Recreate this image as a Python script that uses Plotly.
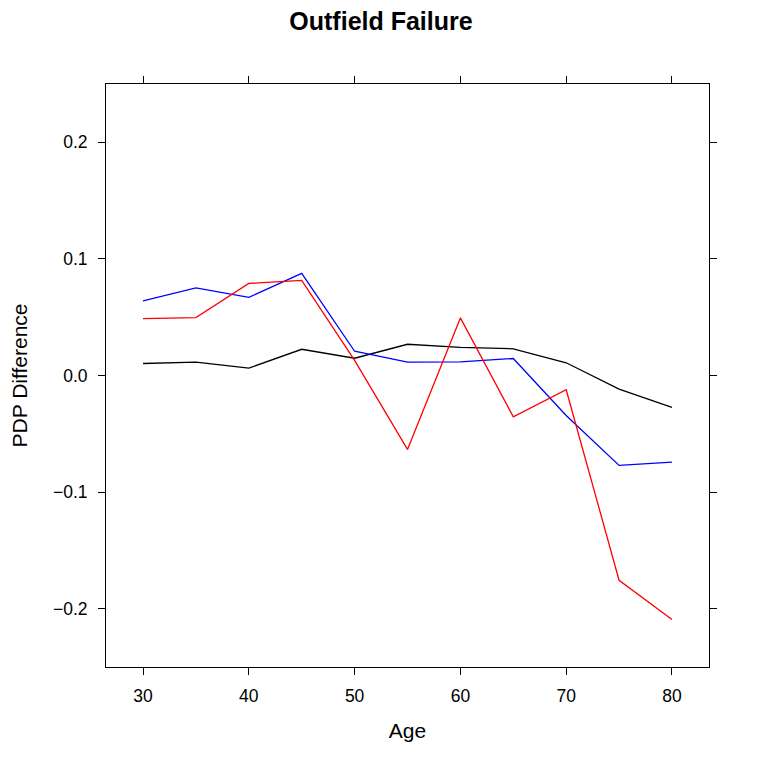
import plotly.graph_objects as go

# Ages on the x axis
age = [30, 35, 40, 45, 50, 55, 60, 65, 70, 75, 80]

# PDP difference per series
pdp_black = [0.0103, 0.0114, 0.0063, 0.0225, 0.0148, 0.0268, 0.0242, 0.0229, 0.0109, -0.0117, -0.0274]
pdp_blue = [0.0640, 0.0751, 0.0670, 0.0876, 0.0208, 0.0114, 0.0117, 0.0146, -0.0343, -0.0771, -0.0743]
pdp_red = [0.0488, 0.0497, 0.0790, 0.0816, 0.0130, -0.0634, 0.0494, -0.0354, -0.0122, -0.1756, -0.2093]

x_ticks = [30, 40, 50, 60, 70, 80]
y_ticks = [-0.2, -0.1, 0.0, 0.1, 0.2]
y_tick_labels = ["\u22120.2", "\u22120.1", "0.0", "0.1", "0.2"]

fig = go.Figure()
for ys, color in [(pdp_black, "black"), (pdp_blue, "blue"), (pdp_red, "red")]:
    fig.add_trace(
        go.Scatter(x=age, y=ys, mode="lines", line=dict(color=color, width=1.3), showlegend=False)
    )

axis_style = dict(
    showline=True,
    linecolor="black",
    linewidth=1,
    mirror="ticks",
    ticks="outside",
    ticklen=7,
    tickcolor="black",
    tickwidth=1,
    showgrid=False,
    zeroline=False,
    automargin=False,
    tickfont=dict(size=17.5, color="black"),
)

fig.update_xaxes(
    range=[26.5, 83.5],
    tickvals=x_ticks,
    ticklabelstandoff=6,
    title=dict(text="Age", font=dict(size=21, color="black"), standoff=18),
    **axis_style,
)
fig.update_yaxes(
    range=[-0.25, 0.25],
    tickvals=y_ticks,
    ticktext=y_tick_labels,
    ticklabelstandoff=7,
    title=dict(text="PDP Difference", font=dict(size=21, color="black"), standoff=20),
    **axis_style,
)

# the page adds ~7px of body margin, so margins are shifted to compensate
fig.update_layout(
    width=760,
    height=760,
    margin=dict(l=98, r=59, t=76, b=101),
    plot_bgcolor="white",
    paper_bgcolor="white",
    font=dict(family="Liberation Sans, Arial, sans-serif", color="black"),
    title=dict(
        text="<b>Outfield Failure</b>",
        x=373 / 760,
        xanchor="center",
        y=1 - 13 / 760,
        yanchor="middle",
        font=dict(size=25, color="black"),
    ),
)

fig.write_html("out.html")
